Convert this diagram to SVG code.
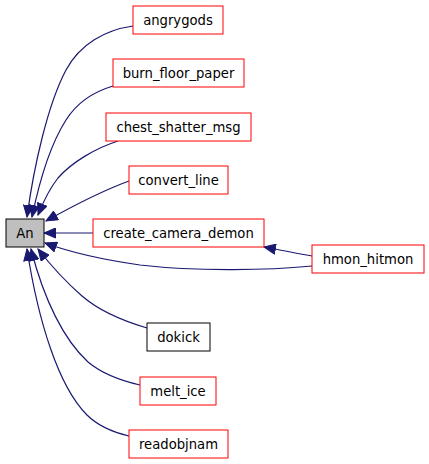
<svg xmlns="http://www.w3.org/2000/svg" width="429" height="464" viewBox="0 0 429 464">
<style>
.n rect{fill:#fff;stroke:#ff0000;stroke-width:1}
.n text{font-family:"DejaVu Sans",sans-serif;font-size:13.2px;text-anchor:middle;fill:#000}
.e path{fill:none;stroke:#191970;stroke-width:1.2;marker-end:url(#ah)}
</style>
<defs>
<marker id="ah" markerUnits="userSpaceOnUse" markerWidth="13" markerHeight="11" refX="12" refY="5.5" orient="auto">
<path d="M0.5,0.5 L12,5.5 L0.5,10.5 z" fill="#191970" stroke="#191970" stroke-width="1"/>
</marker>
</defs>
<rect width="429" height="464" fill="#fff"/>
<g id="edges" class="e">
<path d="M133,26 C105,30 80,44 66,70 C48,104 34,165 27,217"/>
<path d="M113,86 C93,92 76,104 66,120 C52,142 40,178 32,217"/>
<path d="M118,141 C96,148 72,162 58,178 C50,188 44,200 38,215"/>
<path d="M129,181 C110,188 80,202 46,221"/>
<path d="M93,233 L44,233"/>
<path d="M312,266 C270,270 200,272 140,265 C105,260 75,254 45,243"/>
<path d="M312,256 C300,254 285,251 264,247"/>
<path d="M147,328 C120,320 97,309 82,296 C66,282 52,267 38,249"/>
<path d="M140,385 C118,380 100,372 88,362 C64,340 44,300 31,249"/>
<path d="M129,436 C112,432 97,425 87,415 C58,386 38,320 27,249"/>
</g>
<g id="An" class="n"><rect x="6" y="219" width="38" height="28" style="fill:#bfbfbf;stroke:#000"/><text x="25" y="238">An</text></g>
<g id="angrygods" class="n"><rect x="133" y="6" width="90" height="28"/><text x="178" y="25">angrygods</text></g>
<g id="burn_floor_paper" class="n"><rect x="113" y="59" width="131" height="28"/><text x="178.5" y="78">burn_floor_paper</text></g>
<g id="chest_shatter_msg" class="n"><rect x="106" y="113" width="145" height="28"/><text x="178.5" y="132">chest_shatter_msg</text></g>
<g id="convert_line" class="n"><rect x="129" y="166" width="99" height="28"/><text x="178.5" y="185">convert_line</text></g>
<g id="create_camera_demon" class="n"><rect x="93" y="219" width="171" height="28"/><text x="178.5" y="238">create_camera_demon</text></g>
<g id="hmon_hitmon" class="n"><rect x="312" y="245" width="112" height="28"/><text x="368" y="264">hmon_hitmon</text></g>
<g id="dokick" class="n"><rect x="147" y="323" width="63" height="28" style="stroke:#000"/><text x="178.5" y="342">dokick</text></g>
<g id="melt_ice" class="n"><rect x="140" y="377" width="76" height="28"/><text x="178" y="396">melt_ice</text></g>
<g id="readobjnam" class="n"><rect x="129" y="430" width="99" height="28"/><text x="178.5" y="449">readobjnam</text></g>
</svg>
